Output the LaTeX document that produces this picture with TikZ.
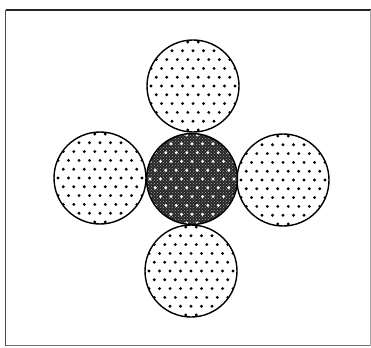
\documentclass[tikz,border=0pt]{standalone}
\usetikzlibrary{patterns}
\begin{document}
\begin{tikzpicture}[x=1pt,y=-1pt,
  wire/.style={draw=black,line width=1.4pt},
  dotc/.style={fill=black}]
\useasboundingbox (0,0) rectangle (371,347);
% frame
\draw[line width=1pt,black!70] (5.5,346) -- (5.5,10.5);
\draw[line width=2pt,black!85] (5.5,10.5) -- (371,10.5);
\draw[line width=0.6pt,black!35] (370,10.5) -- (370,346);
\draw[line width=0.9pt,black!55] (5.5,345.5) -- (370,345.5);
% outer strands
\foreach \n/\cx/\cy in {t/193/86, b/191/271, l/100/178, r/283/180}{
  \begin{scope}
    \clip (\cx,\cy) circle (45.5);
    \foreach \j in {-5,...,5}{
      \pgfmathsetmacro{\off}{mod(abs(\j),2)*5.25}
      \foreach \i in {-5,...,5}{
        \fill[dotc] ({\cx+\i*10.5+\off},{\cy+\j*8.8}) circle (1.6);
      }
    }
  \end{scope}
  \node[circle,wire,minimum size=92pt,inner sep=0pt] (\n) at (\cx,\cy) {};
}
% core strand
\node[circle,minimum size=91pt,inner sep=0pt,fill=black!85] (c) at (192,179) {};
\begin{scope}
  \clip (192,179) circle (45);
  \fill[pattern=crosshatch dots,pattern color=black!35] (140,125) rectangle (245,235);
  \foreach \j in {-5,...,5}{
    \pgfmathsetmacro{\off}{mod(abs(\j),2)*5.25}
    \foreach \i in {-5,...,5}{
      \fill[white] ({192+\i*10.5+\off},{179+\j*8.8}) circle (1.6);
    }
  }
\end{scope}
\node[circle,wire,minimum size=91pt,inner sep=0pt] at (c) {};
\end{tikzpicture}
\end{document}
